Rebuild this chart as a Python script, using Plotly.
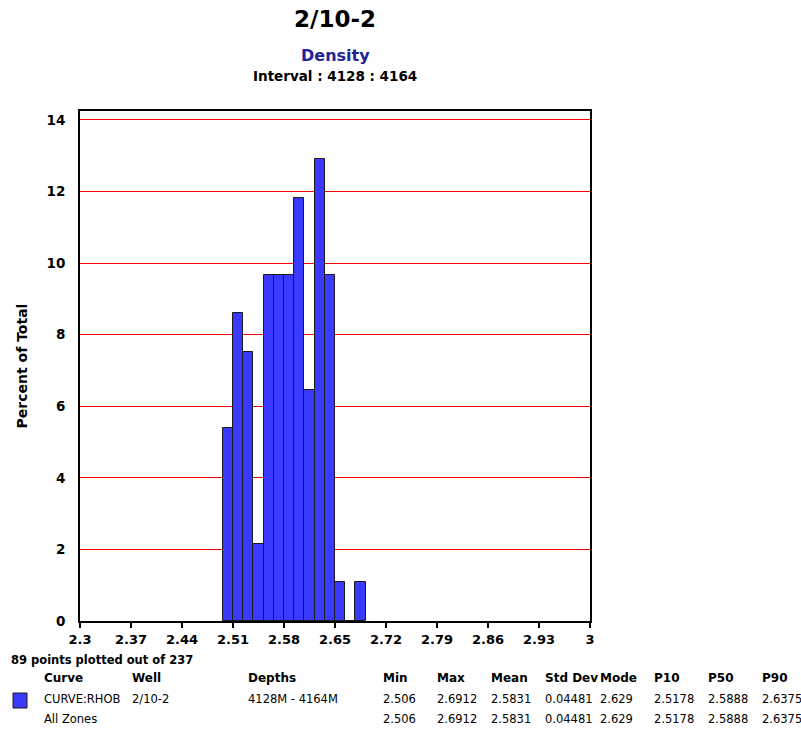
import plotly.graph_objects as go

# Histogram bins (lower edges, g/cc) and percent of total per bin
bin_lo = [2.496, 2.510, 2.524, 2.538, 2.552, 2.566, 2.580, 2.594,
          2.608, 2.622, 2.636, 2.650, 2.664, 2.678]
percent = [5.38, 8.60, 7.53, 2.15, 9.68, 9.68, 9.68, 11.83,
           6.45, 12.90, 9.68, 1.08, 0.0, 1.08]
bin_width = 0.014

x_ticks = [2.3, 2.37, 2.44, 2.51, 2.58, 2.65, 2.72, 2.79, 2.86, 2.93, 3.0]
x_tick_text = ["2.3", "2.37", "2.44", "2.51", "2.58", "2.65", "2.72",
               "2.79", "2.86", "2.93", "3"]
y_ticks = [0, 2, 4, 6, 8, 10, 12, 14]

# Statistics table
headers = ["Curve", "Well", "Depths", "Min", "Max", "Mean", "Std Dev",
           "Mode", "P10", "P50", "P90"]
row_curve = ["CURVE:RHOB", "2/10-2", "4128M - 4164M", "2.506", "2.6912",
             "2.5831", "0.04481", "2.629", "2.5178", "2.5888", "2.6375"]
row_all = ["All Zones", "", "", "2.506", "2.6912", "2.5831", "0.04481",
           "2.629", "2.5178", "2.5888", "2.6375"]
col_x = [42, 130, 246, 381, 435, 489, 543, 598, 652, 706, 760]

W, H = 801, 731
L, R, T, B = 80, 590, 111, 621
FONT = "DejaVu Sans"
BAR_COLOR = "#3a3aff"


def px(x):
    return (x - L) / (R - L)


def py(y):
    return (B - y) / (B - T)


centers = [lo + bin_width / 2 for lo in bin_lo]

fig = go.Figure()
fig.add_trace(go.Bar(
    x=centers, y=percent, width=bin_width,
    marker=dict(color=BAR_COLOR, line=dict(color="#1a1a1a", width=1)),
    showlegend=False, hoverinfo="x+y",
))

ann = []


def text(x, y, s, size=11, bold=False, color="black", xanchor="left"):
    ann.append(dict(
        x=px(x), y=py(y), xref="paper", yref="paper", text=f"<b>{s}</b>" if bold else s,
        showarrow=False, xanchor=xanchor, yanchor="middle",
        font=dict(family=FONT, size=size, color=color),
    ))


# Titles
text(335, 19, "2/10-2", size=23, bold=True, xanchor="center")
text(335, 56, "Density", size=16, bold=True, color="#22229a", xanchor="center")
text(335, 76, "Interval : 4128 : 4164", size=13.5, bold=True, xanchor="center")

# Footer
text(9, 660, "89 points plotted out of 237", size=11.5, bold=True)
for cx, h in zip(col_x, headers):
    text(cx, 678, h, size=12, bold=True)
for cx, v in zip(col_x, row_curve):
    if v:
        text(cx, 699, v, size=11.5)
for cx, v in zip(col_x, row_all):
    if v:
        text(cx, 719, v, size=11.5)

shapes = [dict(
    type="rect", xref="paper", yref="paper",
    x0=px(13), x1=px(27), y0=py(708), y1=py(693),
    fillcolor=BAR_COLOR, line=dict(color="#1a1a1a", width=1),
)]

fig.update_layout(
    width=W, height=H,
    margin=dict(l=L, r=W - R, t=T, b=H - B, pad=0),
    paper_bgcolor="white", plot_bgcolor="white",
    bargap=0,
    annotations=ann, shapes=shapes,
    font=dict(family=FONT, color="black"),
    xaxis=dict(
        range=[2.3, 3.0], tickvals=x_ticks, ticktext=x_tick_text,
        showgrid=False, zeroline=False,
        showline=True, linecolor="black", linewidth=2, mirror=True,
        ticks="outside", ticklen=5, tickwidth=2, tickcolor="black",
        tickfont=dict(family=FONT, size=13, color="black", weight="bold"),
    ),
    yaxis=dict(
        range=[0, 14.25], tickvals=y_ticks,
        showgrid=True, gridcolor="#ff0000", gridwidth=1, zeroline=False,
        showline=True, linecolor="black", linewidth=2, mirror=True,
        ticks="", ticklabelstandoff=10,
        tickfont=dict(family=FONT, size=13.5, color="black", weight="bold"),
        title=dict(text="<b>Percent of Total</b>", standoff=16,
                   font=dict(family=FONT, size=14, color="black")),
    ),
)

fig.write_html("out.html")
